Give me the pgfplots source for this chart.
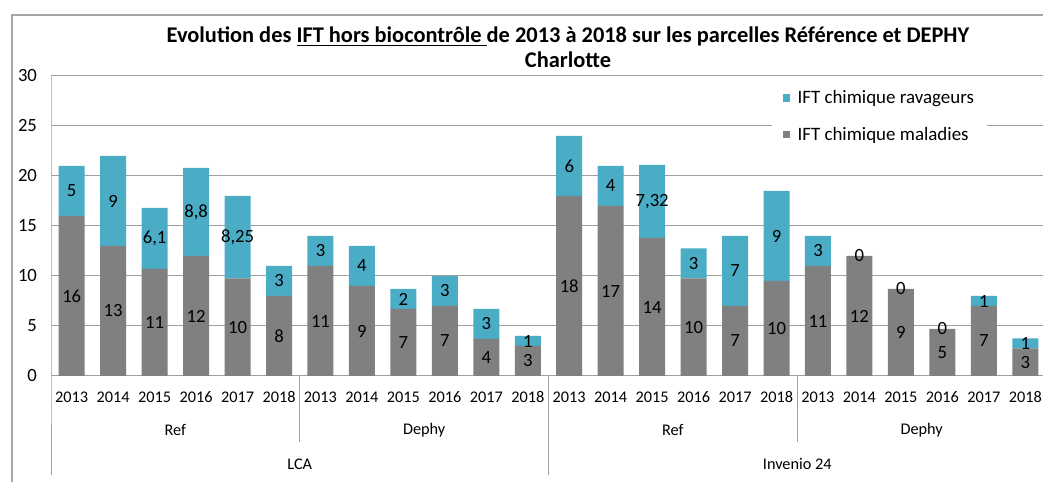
\documentclass[border=0pt]{standalone}
\usepackage{fontspec}
\setmainfont{Carlito}
\usepackage{pgfplots}
\pgfplotsset{compat=1.18}
\usepackage{pgfplotstable}
\definecolor{rav}{HTML}{4BACC6}
\definecolor{mal}{HTML}{808080}
\definecolor{gridc}{HTML}{A0A0A0}
\definecolor{bordc}{HTML}{A6A6A6}
\pgfplotstableread{
idx mal  rav  lmal lrav
0   16   5    16   5
1   13   9    13   9
2   10.7 6.1  11   6,1
3   12   8.8  12   8,8
4   9.75 8.25 10   8,25
5   8    3    8    3
6   11   3    11   3
7   9    4    9    4
8   6.7  2    7    2
9   7    3    7    3
10  3.7  3    4    3
11  3    1    3    1
12  18   6    18   6
13  17   4    17   4
14  13.8 7.32 14   7,32
15  9.75 3    10   3
16  7    7    7    7
17  9.5  9    10   9
18  11   3    11   3
19  12   0    12   0
20  8.7  0    9    0
21  4.7  0    5    0
22  7    1    7    1
23  2.75 1    3    1
}\ifttab
\pgfplotsset{
  common/.style={
    at={(38.25pt,79.5pt)}, anchor=south west,
    scale only axis, width=746.25pt, height=225pt,
    xmin=-0.5, xmax=23.5, ymin=0, ymax=30, clip=false,
  },
  sqlegend/.style={legend image code/.code={\path (0pt,0pt) -- (9pt,0pt);\fill[##1] (0pt,-2.8pt) rectangle (5.6pt,2.8pt);}},
}
\begin{document}
\begin{tikzpicture}
\useasboundingbox (0,0) rectangle (782.25pt,361.5pt);
\draw[bordc, line width=1.2pt] (9pt,-2pt) -- (9pt,350.25pt) -- (790pt,350.25pt);
\node[font=\fontsize{16.8}{18.75}\selectfont\bfseries, align=center] at (426pt,325.9pt)
  {Evolution des \underline{IFT hors biocontrôle }de 2013 à 2018 sur les parcelles Référence et DEPHY\\Charlotte};
\begin{axis}[common,
  ybar stacked, bar width=19.5pt,
  ytick={0,5,...,30},
  xtick={0,...,23},
  xticklabels={2013,2014,2015,2016,2017,2018,2013,2014,2015,2016,2017,2018,2013,2014,2015,2016,2017,2018,2013,2014,2015,2016,2017,2018},
  major tick length=0pt,
  ymajorgrids, grid style={gridc, line width=0.75pt},
  axis line style={draw=none},
  /pgf/number format/assume math mode=true,
  yticklabel style={font=\fontsize{14}{16}\selectfont, xshift=-7pt},
  xticklabel style={font=\fontsize{12.2}{14}\selectfont, anchor=base, yshift=-20pt},
  legend style={at={(0.7246,0.975)}, anchor=north west, draw=none, fill=white,
    font=\fontsize{14.2}{16}\selectfont, inner xsep=8pt, inner ysep=3pt,
    row sep=12pt},
  legend cell align=left,
  reverse legend,
]
\addplot[fill=mal, draw=none, sqlegend] table[x=idx, y=mal]{\ifttab};
\addlegendentry{IFT chimique maladies}
\addplot[fill=rav, draw=none, sqlegend] table[x=idx, y=rav]{\ifttab};
\addlegendentry{IFT chimique ravageurs}
\draw[gridc, line width=0.75pt] (axis cs:-0.5,0) -- (axis cs:23.5,0);
\draw[gridc, line width=0.75pt] (axis cs:-0.5,30) -- (axis cs:-0.5,0) -- ++(0pt,-74.25pt);
\draw[gridc, line width=0.75pt] (axis cs:5.5,0) -- ++(0pt,-49.5pt);
\draw[gridc, line width=0.75pt] (axis cs:17.5,0) -- ++(0pt,-49.5pt);
\draw[gridc, line width=0.75pt] (axis cs:11.5,0) -- ++(0pt,-74.25pt);
\draw[gridc, line width=0.75pt] (axis cs:23.5,0) -- ++(0pt,-74.25pt);
\node[font=\fontsize{12.2}{14}\selectfont] at (axis cs:2.5,0) [yshift=-40.5pt] {Ref};
\node[font=\fontsize{12.2}{14}\selectfont] at (axis cs:8.5,0) [yshift=-40.5pt] {Dephy};
\node[font=\fontsize{12.2}{14}\selectfont] at (axis cs:14.5,0) [yshift=-40.5pt] {Ref};
\node[font=\fontsize{12.2}{14}\selectfont] at (axis cs:20.5,0) [yshift=-40.5pt] {Dephy};
\node[font=\fontsize{12.2}{14}\selectfont] at (axis cs:5.5,0) [yshift=-66pt] {LCA};
\node[font=\fontsize{12.2}{14}\selectfont] at (axis cs:17.5,0) [yshift=-66pt] {Invenio 24};
\end{axis}
\begin{axis}[common, hide axis]
\addplot[draw=none, mark=none, nodes near coords, point meta=explicit symbolic,
  every node near coord/.append style={anchor=center, font=\fontsize{14}{16}\selectfont, text=black}]
  table[x=idx, y expr=\thisrow{mal}/2, meta=lmal]{\ifttab};
\addplot[draw=none, mark=none, nodes near coords, point meta=explicit symbolic,
  every node near coord/.append style={anchor=center, font=\fontsize{14}{16}\selectfont, text=black}]
  table[x=idx, y expr=\thisrow{mal}+\thisrow{rav}/2, meta=lrav]{\ifttab};
\end{axis}
\end{tikzpicture}
\end{document}
